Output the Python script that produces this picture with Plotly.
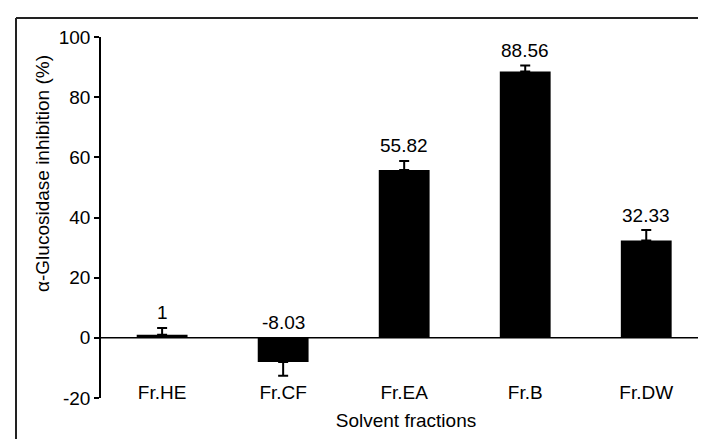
import plotly.graph_objects as go

categories = ["Fr.HE", "Fr.CF", "Fr.EA", "Fr.B", "Fr.DW"]
values = [1.0, -8.03, 55.82, 88.56, 32.33]
errors = [2.3, 4.6, 3.0, 2.0, 3.5]
labels = ["1", "-8.03", "55.82", "88.56", "32.33"]
y_ticks = [-20, 0, 20, 40, 60, 80, 100]
y_ticktext = ["-20", "0", "20", "40", "60", "80", "100"]

W, H = 706, 439
L, R, T, B = 93, 3, 29, 49
pw, ph = W - L - R, H - T - B

err_up = [e if v >= 0 else 0 for v, e in zip(values, errors)]
err_down = [0 if v >= 0 else e for v, e in zip(values, errors)]

font = dict(family="Liberation Sans, Arial, sans-serif", size=19, color="black")

fig = go.Figure()
fig.add_trace(go.Bar(
    x=categories, y=values, width=0.42,
    marker=dict(color="black", line=dict(width=0)),
    error_y=dict(type="data", symmetric=False, array=err_up, arrayminus=err_down,
                 color="black", thickness=2, width=5),
    showlegend=False,
))

for c, v, eu, ed, t in zip(categories, values, err_up, err_down, labels):
    top = max(v + eu, 0)
    fig.add_annotation(x=c, y=top, text=t, showarrow=False, yanchor="middle",
                       yshift=15, font=font)

def px_x(p):
    return (p - L) / pw

def px_y(p):
    return (H - B - p) / ph

# frame lines of the original figure
fig.add_shape(type="line", xref="paper", yref="paper", x0=px_x(8), x1=px_x(706),
              y0=px_y(10), y1=px_y(10), line=dict(color="#222", width=2))
fig.add_shape(type="line", xref="paper", yref="paper", x0=px_x(8), x1=px_x(8),
              y0=px_y(10), y1=px_y(439), line=dict(color="#222", width=2))
# zero line
fig.add_shape(type="line", xref="paper", yref="y", x0=0, x1=1, y0=0, y1=0,
              line=dict(color="black", width=1.5), layer="below")

fig.add_annotation(xref="paper", yref="paper", x=px_x(34), y=px_y(166),
                   text="α-Glucosidase inhibition (%)", textangle=-90,
                   showarrow=False, font=font, xanchor="center", yanchor="middle")

fig.update_layout(
    width=W, height=H,
    margin=dict(l=L, r=R, t=T, b=B, pad=0),
    paper_bgcolor="white", plot_bgcolor="white",
    font=font,
    xaxis=dict(range=[-0.505, 4.535], showline=False, showgrid=False, zeroline=False,
               ticks="", tickfont=font, ticklabelstandoff=-19,
               title=dict(text="Solvent fractions", font=font, standoff=11)),
    yaxis=dict(range=[-20, 100], tickvals=y_ticks, ticktext=y_ticktext, showline=True,
               linecolor="black", linewidth=1.5, ticks="outside", ticklen=5,
               tickwidth=1.5, tickcolor="black", showgrid=False, zeroline=False,
               tickfont=font),
)

fig.write_html("out.html")
